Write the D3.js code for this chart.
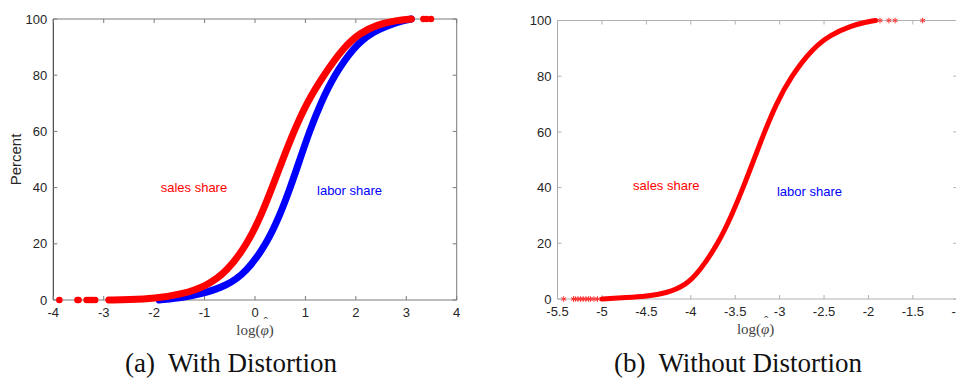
<!DOCTYPE html>
<html>
<head>
<meta charset="utf-8">
<script src="https://cdn.jsdelivr.net/npm/d3@7"></script>
<style>
  body { margin: 0; background: #fff; }
  svg { display: block; }
  .tick-label { font-family: "Liberation Sans", Arial, sans-serif; font-size: 13px; fill: #262626; }
  .ylab { font-family: "Liberation Sans", Arial, sans-serif; font-size: 15px; fill: #262626; }
  .note { font-family: "Liberation Sans", Arial, sans-serif; font-size: 13px; }
  .xlab { font-family: "Liberation Serif", "DejaVu Serif", serif; font-size: 15px; fill: #444; }
  .caption { font-family: "Liberation Serif", "DejaVu Serif", serif; font-size: 27px; fill: #111; }
</style>
</head>
<body>
<svg id="chart" width="956" height="378"></svg>
<script>
// (a) with distortion: CDF of log(phi-hat), percent
const salesX = [-2.9, -2.5, -2.0, -1.45, -0.96, -0.56, -0.15, 0.12, 0.34, 0.55, 0.77, 1.02, 1.36, 1.76, 2.08, 2.42, 2.8, 3.1];
const salesY = [0, 0.1, 0.5, 2, 5, 10, 20, 30, 40, 50, 60, 70, 80, 90, 95, 98, 99.5, 100];
const laborX = [-1.9, -1.4, -1.09, -0.56, -0.17, 0.23, 0.49, 0.70, 0.89, 1.08, 1.30, 1.57, 1.96, 2.29, 2.69, 2.95, 3.1];
const laborY = [0, 1, 2, 5, 10, 20, 30, 40, 50, 60, 70, 80, 90, 95, 98, 99.5, 100];
const salesLowOutliers = [-3.88, -3.52, -3.50, -3.34, -3.30, -3.26, -3.22, -3.17];
const salesHighOutliers = [3.34, 3.40, 3.49];

// (b) without distortion
const noDistX = [-5.0, -4.72, -4.50, -4.28, -4.05, -3.90, -3.69, -3.54, -3.41, -3.29, -3.17, -3.04, -2.87, -2.63, -2.42, -2.20, -2.05, -1.92];
const noDistY = [0, 0.5, 1, 2, 5, 10, 20, 30, 40, 50, 60, 70, 80, 90, 95, 98, 99.3, 100];
const noDistLowOutliers = [-5.43, -5.32, -5.30, -5.27, -5.24, -5.21, -5.18, -5.15, -5.13, -5.09, -5.05];
const noDistHighOutliers = [-1.87, -1.77, -1.70, -1.39];

const leftTicksX = [-4, -3, -2, -1, 0, 1, 2, 3, 4];
const rightTicksX = [-5.5, -5, -4.5, -4, -3.5, -3, -2.5, -2, -1.5, -1];
const ticksY = [0, 20, 40, 60, 80, 100];

const svg = d3.select("#chart");

function drawPanel(opts) {
  const { x, y, xTicks, frameDark, frameLight, caption, captionX, ylabel } = opts;
  const g = svg.append("g");
  const [x0, x1] = x.range();
  const [y0, y1] = y.range();
  const tickLen = 4;

  // frame
  g.append("line").attr("x1", x0).attr("x2", x1).attr("y1", y1).attr("y2", y1).attr("stroke", frameLight);
  g.append("line").attr("x1", x0).attr("x2", x1).attr("y1", y0).attr("y2", y0).attr("stroke", frameLight);
  g.append("line").attr("x1", x1).attr("x2", x1).attr("y1", y0).attr("y2", y1).attr("stroke", frameLight);
  g.append("line").attr("x1", x0).attr("x2", x0).attr("y1", y0).attr("y2", y1).attr("stroke", frameDark);

  // ticks inside, on all four sides
  xTicks.forEach((t) => {
    g.append("line").attr("x1", x(t)).attr("x2", x(t)).attr("y1", y0).attr("y2", y0 - tickLen).attr("stroke", frameLight);
    g.append("line").attr("x1", x(t)).attr("x2", x(t)).attr("y1", y1).attr("y2", y1 + tickLen).attr("stroke", frameLight);
    g.append("text").attr("class", "tick-label").attr("x", x(t)).attr("y", y0 + 17)
      .attr("text-anchor", "middle").text(String(t));
  });
  ticksY.forEach((t) => {
    g.append("line").attr("x1", x0).attr("x2", x0 + tickLen).attr("y1", y(t)).attr("y2", y(t)).attr("stroke", frameLight);
    g.append("line").attr("x1", x1).attr("x2", x1 - tickLen).attr("y1", y(t)).attr("y2", y(t)).attr("stroke", frameLight);
    g.append("text").attr("class", "tick-label").attr("x", x0 - 6).attr("y", y(t))
      .attr("dy", "0.36em").attr("text-anchor", "end").text(String(t));
  });

  // x label: log(phi-hat); the hat is a tspan moved back over the phi
  const xl = g.append("text").attr("class", "xlab").attr("x", opts.xlabX).attr("y", y0 + 35).attr("text-anchor", "middle");
  xl.append("tspan").text("log(");
  const phi = xl.append("tspan").attr("font-style", "italic").text("φ");
  const hat = xl.append("tspan").style("font-size", "13px").text("ˆ");
  const close = xl.append("tspan").text(")");
  const phiW = phi.node().getComputedTextLength();
  const hatW = hat.node().getComputedTextLength();
  hat.attr("dx", -(phiW + hatW) / 2 + 1).attr("dy", -9);
  close.attr("dx", (phiW - hatW) / 2 - 1).attr("dy", 9);

  if (ylabel) {
    g.append("text").attr("class", "ylab")
      .attr("transform", `translate(${x0 - 32},${(y0 + y1) / 2}) rotate(-90)`)
      .attr("text-anchor", "middle").text(ylabel);
  }

  g.append("text").attr("class", "caption").attr("x", captionX).attr("y", 372)
    .attr("text-anchor", "middle").attr("xml:space", "preserve").text(caption);
  return g;
}

function cdfLine(x, y) {
  return d3.line().x((d) => x(d[0])).y((d) => y(d[1])).curve(d3.curveBasis);
}

// ---- left panel
const xa = d3.scaleLinear().domain([-4, 4]).range([53.3, 456.7]);
const ya = d3.scaleLinear().domain([0, 100]).range([300, 19]);
const ga = drawPanel({
  x: xa, y: ya, xTicks: leftTicksX, frameDark: "#262626", frameLight: "#7a7a7a",
  caption: "(a)  With Distortion", captionX: 231, ylabel: "Percent", xlabX: xa(0)
});

const lineA = cdfLine(xa, ya);
ga.append("path").datum(d3.zip(laborX, laborY)).attr("d", lineA)
  .attr("fill", "none").attr("stroke", "#0000ff").attr("stroke-width", 7).attr("stroke-linecap", "round");
ga.append("path").datum(d3.zip(salesX, salesY)).attr("d", lineA)
  .attr("fill", "none").attr("stroke", "#ff0000").attr("stroke-width", 7).attr("stroke-linecap", "round");
ga.selectAll("circle.out")
  .data(salesLowOutliers.map((v) => [v, 0]).concat(salesHighOutliers.map((v) => [v, 100])))
  .join("circle").attr("class", "out")
  .attr("cx", (d) => xa(d[0])).attr("cy", (d) => ya(d[1])).attr("r", 3.3).attr("fill", "#ff0000");

ga.append("text").attr("class", "note").attr("fill", "#ff0000").attr("x", xa(-1.87)).attr("y", ya(40)).attr("dy", "0.35em").text("sales share");
ga.append("text").attr("class", "note").attr("fill", "#0000ff").attr("x", xa(1.23)).attr("y", ya(39)).attr("dy", "0.35em").text("labor share");

// ---- right panel
const xb = d3.scaleLinear().domain([-5.5, -1]).range([557.5, 957.3]);
const yb = d3.scaleLinear().domain([0, 100]).range([299, 20.5]);
const gb = drawPanel({
  x: xb, y: yb, xTicks: rightTicksX, frameDark: "#a8a8a8", frameLight: "#b0b0b0",
  caption: "(b)  Without Distortion", captionX: 738, ylabel: null, xlabX: xb(-3.27)
});

gb.append("path").datum(d3.zip(noDistX, noDistY)).attr("d", cdfLine(xb, yb))
  .attr("fill", "none").attr("stroke", "#ff0000").attr("stroke-width", 5).attr("stroke-linecap", "round");
gb.selectAll("path.star")
  .data(noDistLowOutliers.map((v) => [v, 0]).concat(noDistHighOutliers.map((v) => [v, 100])))
  .join("path").attr("class", "star")
  .attr("transform", (d) => `translate(${xb(d[0])},${yb(d[1])})`)
  .attr("d", d3.symbol(d3.symbolAsterisk, 22))
  .attr("fill", "none").attr("stroke", "#ff3030").attr("stroke-width", 1);

gb.append("text").attr("class", "note").attr("fill", "#ff0000").attr("x", xb(-4.65)).attr("y", yb(40.8)).attr("dy", "0.35em").text("sales share");
gb.append("text").attr("class", "note").attr("fill", "#0000ff").attr("x", xb(-3.03)).attr("y", yb(38.6)).attr("dy", "0.35em").text("labor share");
</script>
</body>
</html>
